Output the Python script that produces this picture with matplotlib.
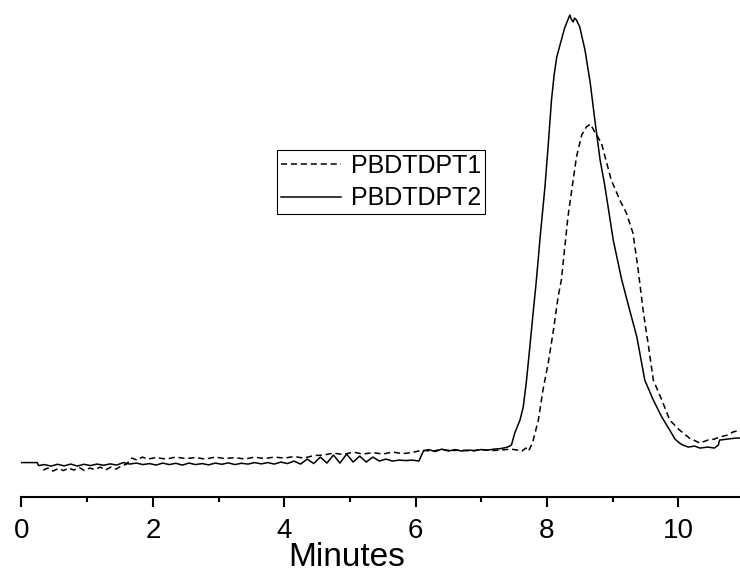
import matplotlib
matplotlib.use("Agg")
import matplotlib.pyplot as plt
from matplotlib.ticker import MultipleLocator

plt.rcParams['font.family'] = ['Liberation Sans', 'DejaVu Sans']

# PBDTDPT2 (solid) - retention time (min) vs detector signal (a.u.)
t2 = [0.00, 0.24, 0.26, 0.35, 0.45, 0.55, 0.65, 0.75, 0.85, 0.95, 1.05, 1.15, 1.25, 1.35,
      1.45, 1.55, 1.65, 1.75, 1.85, 1.95, 2.05, 2.15, 2.25, 2.35, 2.45, 2.55, 2.65, 2.75,
      2.85, 2.95, 3.05, 3.15, 3.25, 3.35, 3.45, 3.55, 3.65, 3.75, 3.85, 3.95, 4.05, 4.15,
      4.25, 4.35, 4.45, 4.55, 4.65, 4.75, 4.85, 4.95, 5.05, 5.15, 5.25, 5.35, 5.45, 5.55,
      5.65, 5.75, 5.85, 5.95, 6.05, 6.12, 6.20, 6.30, 6.40, 6.50, 6.60, 6.70, 6.80, 6.90,
      7.00, 7.10, 7.20, 7.30, 7.40, 7.46, 7.51, 7.59, 7.64, 7.69, 7.74, 7.79, 7.84, 7.90,
      7.97, 8.02, 8.07, 8.11, 8.15, 8.22, 8.27, 8.33, 8.35, 8.37, 8.40, 8.42, 8.45, 8.50,
      8.58, 8.66, 8.73, 8.81, 8.88, 9.01, 9.14, 9.26, 9.37, 9.49, 9.62, 9.75, 9.87, 9.95,
      10.02, 10.07, 10.15, 10.25, 10.33, 10.45, 10.55, 10.61, 10.63, 10.75, 10.88, 10.94]
s2 = [34.5, 34.5, 31.5, 32.5, 31.0, 32.8, 31.2, 33.0, 31.0, 32.8, 31.5, 33.0, 31.8, 33.2,
      32.0, 34.5, 33.0, 34.0, 32.5, 33.5, 32.0, 34.0, 32.5, 33.8, 32.0, 34.0, 32.5, 33.5,
      32.2, 34.0, 32.8, 34.2, 32.5, 33.8, 33.0, 34.5, 33.2, 34.5, 33.0, 35.0, 33.5, 36.0,
      33.0, 38.0, 33.5, 40.0, 34.0, 42.0, 34.0, 43.0, 35.0, 41.0, 35.0, 40.0, 36.0, 38.0,
      36.0, 37.0, 36.5, 37.0, 36.0, 46.0, 47.5, 45.5, 48.0, 46.0, 47.5, 46.0, 47.0, 46.5,
      47.5, 47.0, 48.0, 48.5, 50.0, 52.0, 64.0, 77.0, 90.0, 117.0, 150.0, 184.0, 217.0, 262.0,
      310.0, 352.0, 397.0, 422.0, 440.0, 457.0, 469.0, 479.0, 482.0, 478.0, 475.0, 479.0, 477.0, 470.0,
      447.0, 414.0, 377.0, 337.0, 312.0, 257.0, 217.0, 187.0, 160.0, 117.0, 97.0, 80.0, 67.0, 58.0,
      54.0, 52.0, 50.0, 51.0, 49.0, 50.0, 49.0, 52.0, 57.0, 58.0, 59.0, 59.0]

# PBDTDPT1 (dashed)
t1 = [0.33, 0.40, 0.48, 0.56, 0.64, 0.72, 0.80, 0.88, 0.96, 1.04, 1.12, 1.20, 1.28, 1.36,
      1.44, 1.52, 1.60, 1.68, 1.76, 1.84, 1.92, 2.05, 2.20, 2.35, 2.50, 2.65, 2.80, 2.95,
      3.10, 3.25, 3.40, 3.55, 3.70, 3.85, 4.00, 4.15, 4.30, 4.45, 4.60, 4.75, 4.90, 5.05,
      5.20, 5.35, 5.50, 5.65, 5.80, 5.95, 6.10, 6.25, 6.40, 6.55, 6.70, 6.85, 7.00, 7.15,
      7.30, 7.45, 7.55, 7.62, 7.68, 7.72, 7.78, 7.87, 7.94, 8.02, 8.10, 8.17, 8.22, 8.32,
      8.45, 8.53, 8.60, 8.66, 8.73, 8.83, 8.98, 9.11, 9.21, 9.31, 9.39, 9.47, 9.54, 9.62,
      9.75, 9.87, 10.02, 10.17, 10.33, 10.45, 10.55, 10.63, 10.75, 10.83, 10.94]
s1 = [27.0, 29.0, 26.0, 28.5, 26.5, 29.0, 27.0, 29.5, 26.5, 29.0, 27.5, 30.0, 27.0, 30.0,
      28.0, 31.0, 33.0, 39.0, 37.0, 40.0, 38.0, 39.5, 38.0, 40.0, 38.5, 39.5, 38.0, 40.0,
      38.5, 39.5, 38.0, 40.0, 38.5, 40.0, 39.0, 40.5, 39.0, 41.5, 42.0, 44.0, 42.5, 45.0,
      43.0, 44.5, 43.0, 45.0, 43.5, 44.5, 47.0, 46.0, 47.5, 46.5, 47.0, 46.0, 47.5, 46.5,
      47.0, 48.0, 47.0, 46.0, 49.0, 46.0, 54.0, 77.0, 107.0, 134.0, 167.0, 200.0, 217.0, 280.0,
      340.0, 362.0, 370.0, 373.0, 365.0, 354.0, 317.0, 297.0, 284.0, 264.0, 227.0, 184.0, 154.0, 117.0,
      97.0, 77.0, 67.0, 59.0, 54.0, 57.0, 58.0, 60.0, 62.0, 65.0, 67.0]

fig = plt.figure(figsize=(7.4, 5.74), dpi=100)
ax = fig.add_axes([0.029, 0.134, 0.971, 0.866])

ax.plot(t1, s1, color='black', lw=1.1, linestyle=(0, (4, 2.5)), label='PBDTDPT1')
ax.plot(t2, s2, color='black', lw=1.1, label='PBDTDPT2')

ax.set_xlim(0, 10.94)
ax.set_ylim(0, 497)
for side in ['left', 'right', 'top']:
    ax.spines[side].set_visible(False)
ax.spines['bottom'].set_linewidth(1.5)
ax.set_yticks([])
ax.xaxis.set_major_locator(MultipleLocator(2))
ax.xaxis.set_minor_locator(MultipleLocator(1))
ax.tick_params(axis='x', which='major', length=7, width=1.5, labelsize=20, pad=8)
ax.tick_params(axis='x', which='minor', length=3.5, width=1.5)

ax.set_xlabel('Minutes', fontsize=24)
ax.xaxis.set_label_coords(0.452, -0.09)

ax.legend(loc='upper left', bbox_to_anchor=(0.374, 0.739), bbox_transform=fig.transFigure,
          fontsize=18, frameon=True, fancybox=False, edgecolor='black', framealpha=1,
          handlelength=2.4, handletextpad=0.4, labelspacing=0.35, borderpad=0.15,
          borderaxespad=0)
ax.get_legend().get_frame().set_linewidth(0.8)

fig.savefig('out.png', dpi=100)
